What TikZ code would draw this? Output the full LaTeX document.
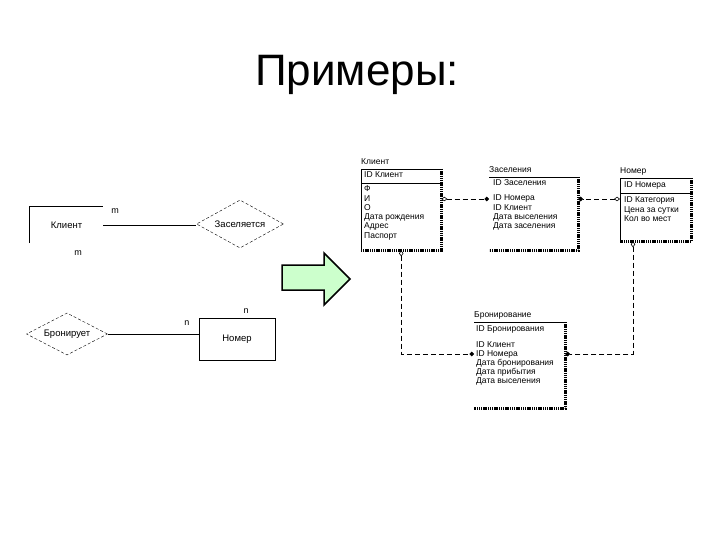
\documentclass[tikz,border=0pt]{standalone}
\usepackage{fontspec}
\setmainfont{Liberation Sans}
\usetikzlibrary{arrows.meta, positioning, shapes.geometric}
\definecolor{arrowgreen}{HTML}{CCFFCC}

\begin{document}
\begin{tikzpicture}[
  x=1pt, y=-1pt,
  title/.style = {font=\fontsize{44}{48}\selectfont, inner sep=0},
  erbox/.style = {
    rectangle, minimum width=73, minimum height=36,
    inner sep=0, font=\fontsize{9.5}{11}\selectfont
  },
  rel/.style = {
    diamond, draw, dash pattern=on 3pt off 2pt, aspect=1.9,
    inner sep=0, font=\fontsize{9.5}{11}\selectfont
  },
  card/.style = {font=\fontsize{9}{10}\selectfont, inner sep=0},
  entity/.style = {rectangle, inner sep=0, anchor=north west},
  ename/.style = {
    font=\fontsize{8.5}{9}\selectfont, inner sep=0,
    text height=6pt, text depth=2pt
  },
  attr/.style = {
    font=\fontsize{8.5}{9}\selectfont, inner sep=0, anchor=west,
    text height=6pt, text depth=2pt
  },
  edge/.style = {line width=0.8pt},
  shade/.style = {line width=2.2pt, dash pattern=on 1.4pt off 0.8pt},
  link/.style = {
    line width=0.8pt, dash pattern=on 5pt off 3pt,
    {Diamond[open, length=6pt, width=4.5pt, line width=0.6pt]}-{Circle[length=4.5pt]}
  }
]
  \useasboundingbox (0,0) rectangle (720,540);

  % title
  \node[title, anchor=base] (ttl) at (357,86) {Примеры:};

  % left: conceptual model
  \node[erbox] (kl) at (66.5,225) {Клиент};
  \draw[edge] (kl.south west) -- (kl.north west) -- (kl.north east);
  \node[rel, minimum width=87, minimum height=48] (zas) at (240,224) {Заселяется};
  \draw[edge] (kl.east) -- (kl.east -| zas.west);
  \node[card] (m1) at (115,211) {m};
  \node[card] (m2) at (78,253) {m};

  \node[rel, minimum width=81, minimum height=42] (bro) at (67,334) {Бронирует};
  \node[erbox, draw, edge, minimum width=76, minimum height=42] (nom) at (237,339) {Номер};
  \draw[edge] (bro.east) -- (bro.east -| nom.west);
  \node[card] (n1) at (187,323) {n};
  \node[card] (n2) at (246,311) {n};

  % transition arrow
  \filldraw[fill=arrowgreen, draw=black, line width=1.5pt]
    (282,265) -- (324,265) -- (324,253) -- (350,279)
    -- (324,305) -- (324,290) -- (282,290) -- cycle;

  % right: logical model
  \node[entity, minimum width=80, minimum height=81] (klient) at (361,169) {};
  \node[ename, above right=2pt and 0pt of klient.north west] (klient-name) {Клиент};
  \draw[edge] (klient.south west) -- (klient.north west) -- (klient.north east);
  \draw[shade] (klient.north east) -- (klient.south east) -- (klient.south west);
  \draw[edge] (klient.west |- 0,183) -- (klient.east |- 0,183);
  \node[attr] (kl-id) at (364,176) {ID Клиент};
  \foreach \lbl [count=\i] in {Ф, И, О, Дата рождения, Адрес, Паспорт}
    \node[attr] (kl-\i) at (364,180.8+9.2*\i) {\lbl};

  \node[entity, minimum width=89, minimum height=73] (zasel) at (489,177) {};
  \node[ename, above right=2pt and 0pt of zasel.north west] (zasel-name) {Заселения};
  \draw[edge] (zasel.north west) -- (zasel.north east);
  \draw[shade] (zasel.north east) -- (zasel.south east) -- (zasel.south west);
  \node[attr] (zs-id) at (493,184) {ID Заселения};
  \foreach \lbl [count=\i] in {ID Номера, ID Клиент, Дата выселения, Дата заселения}
    \node[attr] (zs-\i) at (493,189.7+9.3*\i) {\lbl};

  \node[entity, minimum width=71, minimum height=63] (nomer) at (620,178) {};
  \node[ename, above right=2pt and 0pt of nomer.north west] (nomer-name) {Номер};
  \draw[edge] (nomer.south west) -- (nomer.north west) -- (nomer.north east);
  \draw[shade] (nomer.north east) -- (nomer.south east) -- (nomer.south west);
  \draw[edge] (nomer.west |- 0,193) -- (nomer.east |- 0,193);
  \node[attr] (nm-id) at (624,186) {ID Номера};
  \foreach \lbl [count=\i] in {ID Категория, Цена за сутки, Кол во мест}
    \node[attr] (nm-\i) at (624,191.5+9.5*\i) {\lbl};

  \node[entity, minimum width=91, minimum height=86] (bron) at (474,322) {};
  \node[ename, above right=2pt and 0pt of bron.north west] (bron-name) {Бронирование};
  \draw[edge] (bron.north west) -- (bron.north east);
  \draw[shade] (bron.north east) -- (bron.south east) -- (bron.south west);
  \node[attr] (br-id) at (476,329) {ID Бронирования};
  \foreach \lbl [count=\i] in {ID Клиент, ID Номера, Дата бронирования, Дата прибытия, Дата выселения}
    \node[attr] (br-\i) at (476,336+9*\i) {\lbl};

  % relationships
  \draw[link] (klient.east |- zs-1) -- (zasel.west |- zs-1);
  \draw[link] (nomer.west |- zs-1) -- (zasel.east |- zs-1);
  \draw[link] (klient.south) |- (bron.west |- br-2);
  \draw[link] ([xshift=13pt]nomer.south west) |- (bron.east |- br-2);
\end{tikzpicture}
\end{document}
